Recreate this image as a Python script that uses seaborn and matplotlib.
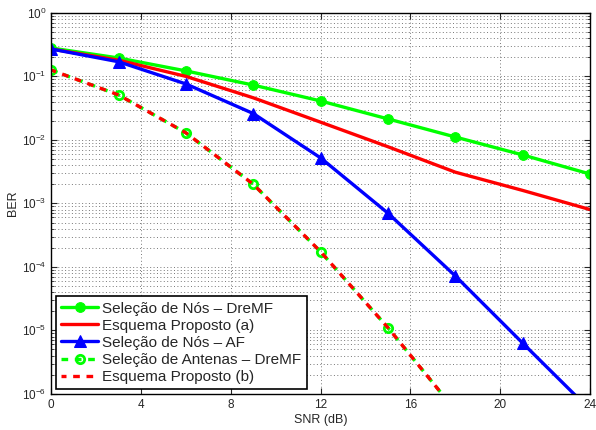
import numpy as np
import pandas as pd
import matplotlib
matplotlib.use("Agg")
import matplotlib.pyplot as plt
import matplotlib.ticker as mticker
import seaborn as sns

snr = [0, 3, 6, 9, 12, 15, 18, 21, 24]
nos_dremf = [0.28, 0.195, 0.122, 0.073, 0.041, 0.0214, 0.0111, 0.0058, 0.0029]
proposto_a = [0.27, 0.18, 0.10, 0.046, 0.019, 0.0078, 0.0031, 0.0016, 0.0008]
nos_af = [0.27, 0.17, 0.076, 0.026, 0.0052, 0.0007, 7.2e-5, 6.3e-6, 5.6e-7]
snr_b = [0, 3, 6, 9, 12, 15, 18]
antenas_dremf = [0.126, 0.051, 0.0129, 0.0020, 1.73e-4, 1.1e-5, 5.5e-7]
proposto_b = [0.126, 0.051, 0.0129, 0.0020, 1.73e-4, 1.1e-5, 5.5e-7]

sns.set_style("ticks")
plt.rcParams['font.family'] = ['Liberation Sans', 'DejaVu Sans']
plt.rcParams['mathtext.fontset'] = 'custom'
plt.rcParams['mathtext.rm'] = 'Liberation Sans'
plt.rcParams['mathtext.it'] = 'Liberation Sans'
plt.rcParams['mathtext.default'] = 'regular'

fig = plt.figure(figsize=(5.96, 4.30), dpi=100)
ax = fig.add_axes([0.086, 0.084, 0.904, 0.886])

green = '#00ff00'
sns.lineplot(x=snr, y=nos_dremf, color=green, lw=2.4, marker='o', ms=7,
             mec=green, mfc=green, label='Seleção de Nós – DreMF', ax=ax)
sns.lineplot(x=snr, y=proposto_a, color='#ff0000', lw=2.4,
             label='Esquema Proposto (a)', ax=ax)
sns.lineplot(x=snr, y=nos_af, color='#0000ff', lw=2.4, marker='^', ms=8,
             mec='#0000ff', mfc='#0000ff', label='Seleção de Nós – AF', ax=ax)
sns.lineplot(x=snr_b, y=antenas_dremf, color=green, lw=2.4, marker='o', ms=6,
             mec=green, mfc='none', mew=2, linestyle=(0, (2, 2)),
             label='Seleção de Antenas – DreMF', ax=ax)
sns.lineplot(x=snr_b, y=proposto_b, color='#ff0000', lw=2.4,
             linestyle=(0.5, (2, 2)), label='Esquema Proposto (b)', ax=ax)

ax.set_yscale('log')
ax.set_xlim(0, 24)
ax.set_ylim(1e-6, 1)
ax.set_xticks([0, 4, 8, 12, 16, 20, 24])
ax.yaxis.set_major_locator(mticker.LogLocator(base=10, numticks=10))
ax.yaxis.set_minor_locator(mticker.LogLocator(base=10, subs=np.arange(2, 10), numticks=20))
ax.yaxis.set_minor_formatter(mticker.NullFormatter())
ax.grid(True, which='major', linestyle=(0, (1, 2.5)), color='#777777', lw=0.7)
ax.yaxis.grid(True, which='minor', linestyle=(0, (1, 2.5)), color='#777777', lw=0.7)
ax.tick_params(which='both', direction='in', top=True, right=True, labelsize=8.5)
ax.tick_params(which='major', length=4)
ax.tick_params(which='minor', length=2)
for s in ax.spines.values():
    s.set_linewidth(1.0)
    s.set_color('black')
ax.set_xlabel('SNR (dB)', fontsize=9, labelpad=2)
ax.set_ylabel('BER', fontsize=9, labelpad=2)

leg = ax.legend(loc='lower left', fontsize=11, frameon=True, fancybox=False,
                edgecolor='black', framealpha=1, handlelength=2.4,
                handletextpad=0.3, borderpad=0.35, labelspacing=0.2,
                borderaxespad=0.3)
leg.get_frame().set_linewidth(1.2)

fig.savefig('out.png', dpi=100)
